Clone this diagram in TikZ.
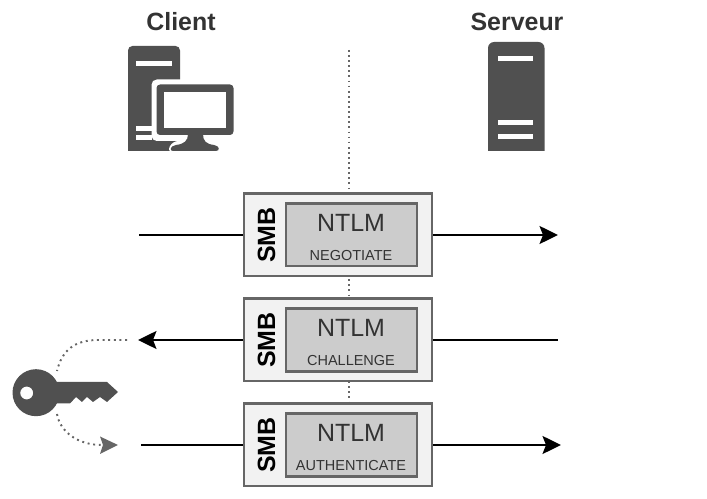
\documentclass[tikz,border=0pt]{standalone}
\usepackage{fontspec}
\setmainfont{Liberation Sans}
\usetikzlibrary{arrows.meta}
\definecolor{icongray}{HTML}{505050}
\definecolor{boxgray}{HTML}{666666}
\definecolor{textgray}{HTML}{333333}
\tikzset{
    smbbox/.style={draw=boxgray, line width=1.15pt, fill=black!5, minimum width=3.78cm, minimum height=1.66cm, inner sep=0pt},
    ntlmbox/.style={draw=boxgray, line width=1.15pt, fill=black!20, minimum width=2.63cm, minimum height=1.26cm, inner sep=0pt},
    smblabel/.style={rotate=90, font=\bfseries\fontsize{14.2}{16}\selectfont, inner sep=0pt},
    ntlmlabel/.style={text=textgray, font=\fontsize{14.2}{16}\selectfont, inner sep=0pt},
    msglabel/.style={text=textgray, font=\fontsize{8.25}{10}\selectfont, inner sep=0pt},
    titlelabel/.style={text=textgray, font=\bfseries\fontsize{14.2}{16}\selectfont, inner sep=0pt},
    msgarrow/.style={->, line width=1.15pt},
    keyarrow/.style={dash pattern=on 1.1pt off 2.1pt, line width=1.1pt, boxgray}
}
\begin{document}
\begin{tikzpicture}[x=0.02cm, y=-0.02cm, >={Stealth[length=0.37cm, width=0.36cm, inset=0.07cm]}]
    \useasboundingbox (0,0) rectangle (707,499);

    \node[titlelabel] (client) at (181, 22) {Client};
    \node[titlelabel] (serveur) at (517, 22) {Serveur};

    % Separator
    \coordinate (septop) at (349, 50);
    \coordinate (sepbottom) at (349, 403);
    \draw[dash pattern=on 1pt off 1.9pt, line width=0.9pt, boxgray] (septop) -- (sepbottom);

    % Client computer
    \fill[icongray] (128, 151) [rounded corners=2.5pt] -- (128, 46) -- (180, 46) [sharp corners] -- (180, 151) -- cycle;
    \fill[white] (136, 61) rectangle (172, 66.5);
    \fill[white] (136, 126) rectangle (152, 131);
    \fill[white] (136, 135.5) rectangle (152, 140.5);
    \fill[white, rounded corners=3pt] (151.5, 79.5) rectangle (240, 141);
    \fill[white, rounded corners=3pt] (167, 151.5) -- (173, 141) -- (240, 141) -- (240, 152) -- cycle;
    \fill[icongray, rounded corners=2pt] (156.5, 84.5) rectangle (233.5, 135);
    \fill[white] (164, 92) rectangle (226, 128);
    \fill[icongray] (188, 134) -- (203, 134) .. controls (203, 141) and (206, 144) .. (214, 145)
        .. controls (220, 146) and (220, 151) .. (216, 151) -- (173, 151)
        .. controls (169, 151) and (170, 146) .. (176, 145)
        .. controls (184, 144) and (188, 141) .. (188, 134) -- cycle;

    % Server
    \fill[icongray] (488, 151) [rounded corners=3.5pt] -- (488, 42) -- (544.5, 42) [sharp corners] -- (544.5, 151) -- cycle;
    \foreach \y in {56, 120, 134} {
        \fill[white] (498, \y) rectangle (533, \y + 5);
    }

    % Messages
    \foreach \name/\y/\msg in {negotiate/235/NEGOTIATE, challenge/340/CHALLENGE, authenticate/445/AUTHENTICATE} {
        \node[smbbox] (smb\name) at (338, \y) {};
        \node[ntlmbox] (ntlm\name) at (351.3, \y) {};
        \node[smblabel] (lbl\name) at (266.5, \y) {SMB};
        \node[ntlmlabel] (title\name) at (351, \y - 12) {NTLM};
        \node[msglabel] (msg\name) at (351, \y + 20.5) {\msg};
    }

    % Arrows
    \coordinate (negleft) at (139, 235);
    \coordinate (negright) at (558, 235);
    \coordinate (chaleft) at (138, 340);
    \coordinate (charight) at (558, 340);
    \coordinate (autleft) at (141, 445);
    \coordinate (autright) at (561, 445);
    \draw[line width=1.15pt] (negleft) -- (smbnegotiate);
    \draw[msgarrow] (smbnegotiate) -- (negright);
    \draw[msgarrow] (smbchallenge) -- (chaleft);
    \draw[line width=1.15pt] (smbchallenge) -- (charight);
    \draw[line width=1.15pt] (autleft) -- (smbauthenticate);
    \draw[msgarrow] (smbauthenticate) -- (autright);

    % Key
    \fill[icongray, even odd rule] (36, 392.7) circle (23.5) (26.7, 393) circle (6.5);
    \fill[icongray] (55, 382) -- (107, 382) -- (118, 392) -- (107, 402) -- (100, 397)
        -- (93, 402) -- (87, 397) -- (82, 402) -- (76, 397) -- (70, 403.5) -- (55, 403.5) -- cycle;

    \coordinate (keytop) at (57, 371);
    \coordinate (keybottom) at (57, 414);
    \coordinate (chainend) at (127, 340);
    \draw[keyarrow] (chainend) -- (98, 340) .. controls (75, 340) and (62, 350) .. (keytop);
    \draw[keyarrow] (keybottom) .. controls (60, 432) and (78, 445) .. (102, 445);
    \fill[boxgray] (118, 445) -- (100, 436.5) -- (103, 445) -- (100, 454) -- cycle;
\end{tikzpicture}
\end{document}
